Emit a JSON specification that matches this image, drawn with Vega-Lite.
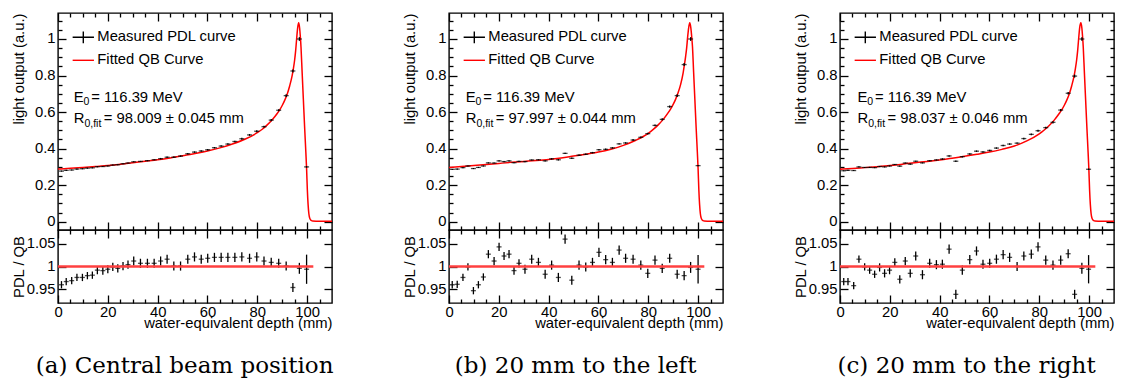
{
"$schema": "https://vega.github.io/schema/vega-lite/v6.json",
"background": "white",
"padding": {"left": 10, "top": 11, "right": 0, "bottom": 0},
"spacing": 67,
"resolve": {"scale": {"x": "independent", "y": "independent", "color": "independent"}, "axis": {"x": "independent", "y": "independent"}, "legend": {"color": "independent"}},
"config": {
 "view": {"stroke": "black", "strokeWidth": 1.4},
 "axis": {"domain": false, "grid": false, "tickColor": "black", "tickWidth": 1.3, "labelFont": "Liberation Sans", "labelFontSize": 14.8, "labelColor": "black", "labelOverlap": false, "labelFlush": false, "titleFont": "Liberation Sans", "titleFontSize": 14.8, "titleFontWeight": "normal", "titleColor": "black"},
 "text": {"font": "Liberation Sans"},
 "tick": {"thickness": 1.3, "color": "black"}
},
"datasets": {
 "ptsA": [
  {"x":1.4,"v":0.277,"ve":0.003,"r":0.960,"re":0.008},{"x":3.3,"v":0.281,"ve":0.003,"r":0.967,"re":0.008},{"x":5.5,"v":0.283,"ve":0.003,"r":0.969,"re":0.008},{"x":7.6,"v":0.288,"ve":0.003,"r":0.976,"re":0.008},{"x":9.8,"v":0.290,"ve":0.003,"r":0.976,"re":0.008},{"x":11.8,"v":0.293,"ve":0.003,"r":0.980,"re":0.008},{"x":13.8,"v":0.295,"ve":0.003,"r":0.981,"re":0.008},{"x":15.8,"v":0.301,"ve":0.003,"r":0.992,"re":0.009},{"x":18.0,"v":0.302,"ve":0.003,"r":0.991,"re":0.009},{"x":20.0,"v":0.305,"ve":0.003,"r":0.994,"re":0.009},{"x":22.0,"v":0.310,"ve":0.003,"r":0.999,"re":0.009},{"x":24.0,"v":0.312,"ve":0.003,"r":0.996,"re":0.009},{"x":26.1,"v":0.317,"ve":0.003,"r":1.001,"re":0.009},{"x":28.1,"v":0.321,"ve":0.003,"r":1.004,"re":0.009},{"x":30.4,"v":0.328,"ve":0.003,"r":1.012,"re":0.010},{"x":33.1,"v":0.330,"ve":0.003,"r":1.007,"re":0.010},{"x":35.9,"v":0.334,"ve":0.003,"r":1.007,"re":0.010},{"x":38.6,"v":0.339,"ve":0.003,"r":1.007,"re":0.010},{"x":41.2,"v":0.345,"ve":0.004,"r":1.012,"re":0.010},{"x":43.8,"v":0.353,"ve":0.004,"r":1.016,"re":0.010},{"x":46.5,"v":0.353,"ve":0.004,"r":1.001,"re":0.010},{"x":49.2,"v":0.359,"ve":0.004,"r":1.001,"re":0.010},{"x":52.1,"v":0.372,"ve":0.004,"r":1.016,"re":0.010},{"x":54.8,"v":0.381,"ve":0.004,"r":1.021,"re":0.010},{"x":57.5,"v":0.387,"ve":0.004,"r":1.016,"re":0.010},{"x":60.1,"v":0.394,"ve":0.004,"r":1.018,"re":0.010},{"x":62.8,"v":0.405,"ve":0.004,"r":1.020,"re":0.010},{"x":65.5,"v":0.414,"ve":0.004,"r":1.020,"re":0.010},{"x":68.2,"v":0.425,"ve":0.004,"r":1.020,"re":0.010},{"x":71.0,"v":0.439,"ve":0.004,"r":1.020,"re":0.010},{"x":73.8,"v":0.454,"ve":0.005,"r":1.021,"re":0.010},{"x":76.9,"v":0.475,"ve":0.005,"r":1.018,"re":0.010},{"x":79.8,"v":0.495,"ve":0.005,"r":1.021,"re":0.010},{"x":82.7,"v":0.520,"ve":0.005,"r":1.012,"re":0.010},{"x":85.6,"v":0.556,"ve":0.006,"r":1.009,"re":0.010},{"x":88.6,"v":0.610,"ve":0.006,"r":1.007,"re":0.010},{"x":91.6,"v":0.690,"ve":0.007,"r":1.001,"re":0.010},{"x":94.3,"v":0.825,"ve":0.008,"r":0.954,"re":0.010},{"x":96.9,"v":1.000,"ve":0.010,"r":0.996,"re":0.012},{"x":99.8,"v":0.300,"ve":0.004,"r":0.994,"re":0.032}
 ],
 "ptsB": [
  {"x":1.3,"v":0.286,"ve":0.003,"r":0.960,"re":0.008},{"x":3.3,"v":0.288,"ve":0.003,"r":0.961,"re":0.008},{"x":5.6,"v":0.296,"ve":0.003,"r":0.976,"re":0.008},{"x":7.6,"v":0.305,"ve":0.003,"r":0.999,"re":0.008},{"x":9.8,"v":0.291,"ve":0.003,"r":0.947,"re":0.008},{"x":11.8,"v":0.297,"ve":0.003,"r":0.960,"re":0.008},{"x":13.8,"v":0.305,"ve":0.003,"r":0.977,"re":0.008},{"x":15.8,"v":0.322,"ve":0.003,"r":1.027,"re":0.009},{"x":18.1,"v":0.321,"ve":0.003,"r":1.012,"re":0.009},{"x":20.1,"v":0.333,"ve":0.003,"r":1.043,"re":0.009},{"x":22.1,"v":0.329,"ve":0.003,"r":1.023,"re":0.009},{"x":24.1,"v":0.333,"ve":0.003,"r":1.027,"re":0.009},{"x":26.1,"v":0.323,"ve":0.003,"r":0.991,"re":0.009},{"x":28.1,"v":0.330,"ve":0.003,"r":1.007,"re":0.009},{"x":30.5,"v":0.329,"ve":0.003,"r":0.994,"re":0.010},{"x":33.2,"v":0.338,"ve":0.003,"r":1.016,"re":0.010},{"x":35.9,"v":0.339,"ve":0.003,"r":1.009,"re":0.010},{"x":38.6,"v":0.333,"ve":0.003,"r":0.983,"re":0.010},{"x":41.2,"v":0.344,"ve":0.004,"r":1.003,"re":0.010},{"x":43.9,"v":0.339,"ve":0.004,"r":0.976,"re":0.010},{"x":46.6,"v":0.374,"ve":0.004,"r":1.060,"re":0.010},{"x":49.3,"v":0.347,"ve":0.004,"r":0.970,"re":0.010},{"x":52.2,"v":0.364,"ve":0.004,"r":1.003,"re":0.010},{"x":54.9,"v":0.369,"ve":0.004,"r":0.999,"re":0.010},{"x":57.6,"v":0.378,"ve":0.004,"r":1.009,"re":0.010},{"x":60.2,"v":0.394,"ve":0.004,"r":1.031,"re":0.010},{"x":62.9,"v":0.396,"ve":0.004,"r":1.015,"re":0.010},{"x":65.6,"v":0.404,"ve":0.004,"r":1.009,"re":0.010},{"x":68.3,"v":0.426,"ve":0.004,"r":1.036,"re":0.010},{"x":70.9,"v":0.431,"ve":0.004,"r":1.018,"re":0.010},{"x":73.9,"v":0.447,"ve":0.005,"r":1.016,"re":0.010},{"x":77.0,"v":0.462,"ve":0.005,"r":1.003,"re":0.010},{"x":79.8,"v":0.482,"ve":0.005,"r":0.985,"re":0.010},{"x":82.7,"v":0.527,"ve":0.005,"r":1.014,"re":0.010},{"x":85.6,"v":0.560,"ve":0.006,"r":0.996,"re":0.010},{"x":88.6,"v":0.630,"ve":0.006,"r":1.018,"re":0.010},{"x":91.6,"v":0.690,"ve":0.007,"r":0.983,"re":0.010},{"x":94.4,"v":0.860,"ve":0.008,"r":0.980,"re":0.010},{"x":97.0,"v":1.000,"ve":0.010,"r":0.998,"re":0.012},{"x":100.0,"v":0.307,"ve":0.004,"r":0.994,"re":0.031}
 ],
 "ptsC": [
  {"x":1.5,"v":0.279,"ve":0.003,"r":0.967,"re":0.008},{"x":3.2,"v":0.281,"ve":0.003,"r":0.967,"re":0.008},{"x":5.5,"v":0.280,"ve":0.003,"r":0.958,"re":0.008},{"x":7.6,"v":0.300,"ve":0.003,"r":1.016,"re":0.008},{"x":9.9,"v":0.297,"ve":0.003,"r":0.999,"re":0.008},{"x":11.9,"v":0.297,"ve":0.003,"r":0.992,"re":0.008},{"x":13.9,"v":0.296,"ve":0.003,"r":0.983,"re":0.008},{"x":15.9,"v":0.302,"ve":0.003,"r":0.998,"re":0.009},{"x":17.9,"v":0.300,"ve":0.003,"r":0.985,"re":0.009},{"x":19.9,"v":0.305,"ve":0.003,"r":0.992,"re":0.009},{"x":22.0,"v":0.313,"ve":0.003,"r":1.009,"re":0.009},{"x":24.0,"v":0.304,"ve":0.003,"r":0.972,"re":0.009},{"x":26.2,"v":0.321,"ve":0.003,"r":1.012,"re":0.009},{"x":28.2,"v":0.315,"ve":0.003,"r":0.985,"re":0.009},{"x":30.4,"v":0.331,"ve":0.003,"r":1.023,"re":0.010},{"x":33.1,"v":0.322,"ve":0.003,"r":0.982,"re":0.010},{"x":36.0,"v":0.334,"ve":0.003,"r":1.007,"re":0.010},{"x":38.7,"v":0.338,"ve":0.003,"r":1.004,"re":0.010},{"x":41.1,"v":0.343,"ve":0.004,"r":1.005,"re":0.010},{"x":43.8,"v":0.360,"ve":0.004,"r":1.038,"re":0.010},{"x":46.5,"v":0.331,"ve":0.004,"r":0.939,"re":0.010},{"x":49.1,"v":0.356,"ve":0.004,"r":0.992,"re":0.010},{"x":52.1,"v":0.371,"ve":0.004,"r":1.015,"re":0.010},{"x":54.8,"v":0.386,"ve":0.004,"r":1.034,"re":0.010},{"x":57.4,"v":0.382,"ve":0.004,"r":1.005,"re":0.010},{"x":60.1,"v":0.390,"ve":0.004,"r":1.007,"re":0.010},{"x":62.8,"v":0.403,"ve":0.004,"r":1.016,"re":0.010},{"x":65.5,"v":0.417,"ve":0.004,"r":1.026,"re":0.010},{"x":68.1,"v":0.425,"ve":0.004,"r":1.020,"re":0.010},{"x":71.1,"v":0.430,"ve":0.004,"r":1.000,"re":0.010},{"x":73.8,"v":0.455,"ve":0.005,"r":1.023,"re":0.010},{"x":76.8,"v":0.478,"ve":0.005,"r":1.027,"re":0.010},{"x":79.5,"v":0.498,"ve":0.005,"r":1.043,"re":0.010},{"x":82.6,"v":0.515,"ve":0.005,"r":1.014,"re":0.010},{"x":85.5,"v":0.544,"ve":0.006,"r":1.003,"re":0.010},{"x":88.6,"v":0.611,"ve":0.006,"r":1.014,"re":0.010},{"x":91.6,"v":0.703,"ve":0.007,"r":1.028,"re":0.010},{"x":94.2,"v":0.797,"ve":0.008,"r":0.939,"re":0.010},{"x":97.1,"v":1.000,"ve":0.010,"r":0.996,"re":0.012},{"x":99.8,"v":0.287,"ve":0.004,"r":0.994,"re":0.031}
 ],
 "curveA": [
  {"x":0,"y":0.288},{"x":5,"y":0.292},{"x":10,"y":0.297},{"x":15,"y":0.302},{"x":20,"y":0.307},{"x":25,"y":0.315},{"x":30,"y":0.323},{"x":35,"y":0.331},{"x":40,"y":0.339},{"x":45,"y":0.349},{"x":50,"y":0.361},{"x":55,"y":0.373},{"x":60,"y":0.387},{"x":65,"y":0.404},{"x":70,"y":0.425},{"x":75,"y":0.451},{"x":80,"y":0.487},{"x":82,"y":0.506},{"x":84,"y":0.530},{"x":86,"y":0.558},{"x":88,"y":0.592},{"x":89,"y":0.612},{"x":90,"y":0.636},{"x":91,"y":0.664},{"x":92,"y":0.698},{"x":93,"y":0.743},{"x":94,"y":0.800},{"x":94.5,"y":0.838},{"x":95,"y":0.885},{"x":95.4,"y":0.935},{"x":95.8,"y":1.0},{"x":96.2,"y":1.06},{"x":96.6,"y":1.089},{"x":97.0,"y":1.06},{"x":97.3,"y":1.01},{"x":97.55,"y":0.958},{"x":98.0,"y":0.82},{"x":98.5,"y":0.67},{"x":99.0,"y":0.52},{"x":99.5,"y":0.38},{"x":99.8,"y":0.29},{"x":100.1,"y":0.175},{"x":100.4,"y":0.095},{"x":100.7,"y":0.045},{"x":101.0,"y":0.022},{"x":101.4,"y":0.01},{"x":101.8,"y":0.006},{"x":102.2,"y":0.004},{"x":105,"y":0.003},{"x":110,"y":0.003}
 ],
 "curveB": [
  {"x":0,"y":0.297},{"x":5,"y":0.302},{"x":10,"y":0.307},{"x":15,"y":0.313},{"x":20,"y":0.319},{"x":25,"y":0.325},{"x":30,"y":0.330},{"x":35,"y":0.335},{"x":40,"y":0.341},{"x":45,"y":0.349},{"x":50,"y":0.359},{"x":55,"y":0.369},{"x":60,"y":0.381},{"x":65,"y":0.397},{"x":70,"y":0.418},{"x":75,"y":0.446},{"x":80,"y":0.484},{"x":82,"y":0.505},{"x":84,"y":0.530},{"x":86,"y":0.560},{"x":88,"y":0.597},{"x":89,"y":0.618},{"x":90,"y":0.642},{"x":91,"y":0.671},{"x":92,"y":0.707},{"x":93,"y":0.752},{"x":94,"y":0.815},{"x":94.5,"y":0.858},{"x":95,"y":0.905},{"x":95.4,"y":0.950},{"x":95.8,"y":1.01},{"x":96.2,"y":1.06},{"x":96.65,"y":1.089},{"x":97.1,"y":1.06},{"x":97.45,"y":1.01},{"x":97.75,"y":0.958},{"x":98.2,"y":0.82},{"x":98.7,"y":0.67},{"x":99.2,"y":0.52},{"x":99.7,"y":0.38},{"x":100.0,"y":0.29},{"x":100.3,"y":0.175},{"x":100.6,"y":0.095},{"x":100.9,"y":0.045},{"x":101.2,"y":0.022},{"x":101.6,"y":0.01},{"x":102.0,"y":0.006},{"x":102.4,"y":0.004},{"x":105,"y":0.003},{"x":110,"y":0.003}
 ],
 "curveC": [
  {"x":0,"y":0.287},{"x":5,"y":0.291},{"x":10,"y":0.296},{"x":15,"y":0.301},{"x":20,"y":0.307},{"x":25,"y":0.315},{"x":30,"y":0.323},{"x":35,"y":0.330},{"x":40,"y":0.338},{"x":45,"y":0.347},{"x":50,"y":0.358},{"x":55,"y":0.369},{"x":60,"y":0.381},{"x":65,"y":0.396},{"x":70,"y":0.414},{"x":75,"y":0.442},{"x":80,"y":0.481},{"x":82,"y":0.502},{"x":84,"y":0.527},{"x":86,"y":0.556},{"x":88,"y":0.592},{"x":89,"y":0.612},{"x":90,"y":0.636},{"x":91,"y":0.664},{"x":92,"y":0.698},{"x":93,"y":0.743},{"x":94,"y":0.800},{"x":94.5,"y":0.838},{"x":95,"y":0.885},{"x":95.4,"y":0.935},{"x":95.8,"y":1.0},{"x":96.2,"y":1.06},{"x":96.7,"y":1.089},{"x":97.1,"y":1.06},{"x":97.4,"y":1.01},{"x":97.65,"y":0.958},{"x":98.1,"y":0.82},{"x":98.6,"y":0.67},{"x":99.1,"y":0.52},{"x":99.6,"y":0.38},{"x":99.9,"y":0.29},{"x":100.2,"y":0.175},{"x":100.5,"y":0.095},{"x":100.8,"y":0.045},{"x":101.1,"y":0.022},{"x":101.5,"y":0.01},{"x":101.9,"y":0.006},{"x":102.3,"y":0.004},{"x":105,"y":0.003},{"x":110,"y":0.003}
 ]
},
"hconcat": [
 {
  "spacing": 0, "bounds": "flush",
  "resolve": {"scale": {"x": "independent", "y": "independent", "color": "independent"}, "axis": {"x": "independent", "y": "independent"}, "legend": {"color": "independent"}},
  "title": {"text": "(a) Central beam position", "orient": "bottom", "anchor": "middle", "frame": "bounds", "dx": 12.5, "offset": 24, "font": "DejaVu Serif", "fontSize": 23, "fontWeight": "normal", "color": "black"},
  "vconcat": [
   {
    "width": 274, "height": 217,
    "resolve": {"axis": {"x": "independent", "y": "independent"}},
    "layer": [
     {"data": {"name": "curveA"}, "mark": {"type": "line", "interpolate": "monotone", "strokeWidth": 1.5, "clip": true},
      "encoding": {
       "x": {"field": "x", "type": "quantitative", "scale": {"domain": [0, 110], "nice": false, "zero": false}, "axis": {"orient": "bottom", "values": [0,20,40,60,80,100], "tickSize": -8, "labels": false, "title": null}},
       "y": {"field": "y", "type": "quantitative", "scale": {"domain": [-0.0454, 1.1423], "nice": false, "zero": false}, "axis": {"orient": "left", "values": [0,0.2,0.4,0.6,0.8,1], "format": "~g", "tickSize": -8, "labelPadding": 11, "title": "light output (a.u.)", "titleAnchor": "end", "titleX": -31.5}},
       "color": {"datum": "Fitted QB Curve", "type": "nominal", "scale": {"domain": ["Measured PDL curve", "Fitted QB Curve"], "range": ["black", "#ff0000"]},
        "legend": {"orient": "none", "legendX": 13.8, "legendY": 12.8, "title": null, "padding": 0, "symbolSize": 454, "symbolStrokeWidth": 1.3, "labelFont": "Liberation Sans", "labelFontSize": 14.8, "labelColor": "black", "labelOffset": 2.5, "rowPadding": 2, "labelLimit": 400,
         "encode": {"symbols": {"update": {"shape": {"signal": "datum.value === 'Measured PDL curve' ? 'M-1,0H1M0,-0.55V0.55' : 'M-1,0H1'"}, "fill": {"value": "transparent"}, "stroke": {"signal": "datum.value === 'Measured PDL curve' ? 'black' : '#ff0000'"}, "strokeWidth": {"value": 1.4}}}}}}
      }},
     {"data": {"name": "ptsA"}, "mark": {"type": "errorbar", "ticks": false, "color": "black", "rule": {"strokeWidth": 1.3}},
      "encoding": {"x": {"field": "x", "type": "quantitative", "axis": {"orient": "bottom", "values": [5,10,15,25,30,35,45,50,55,65,70,75,85,90,95,105], "tickSize": -4, "labels": false, "title": null}},
       "y": {"field": "v", "type": "quantitative", "axis": {"orient": "left", "values": [0.05,0.1,0.15,0.25,0.3,0.35,0.45,0.5,0.55,0.65,0.7,0.75,0.85,0.9,0.95,1.05,1.1], "tickSize": -4, "labels": false, "title": null}},
       "yError": {"field": "ve"}}},
     {"data": {"name": "ptsA"}, "mark": {"type": "tick", "orient": "horizontal", "size": 5, "thickness": 1.3, "color": "black"},
      "encoding": {"x": {"field": "x", "type": "quantitative", "axis": {"orient": "top", "values": [0,20,40,60,80,100], "tickSize": -8, "labels": false, "title": null}},
       "y": {"field": "v", "type": "quantitative", "axis": {"orient": "right", "values": [0,0.2,0.4,0.6,0.8,1], "tickSize": -8, "labels": false, "title": null}}}},
     {"data": {"values": [{}]}, "mark": {"type": "text", "text": "E", "align": "left", "baseline": "alphabetic", "fontSize": 14.8, "color": "black"},
      "encoding": {"x": {"datum": 6.3, "type": "quantitative", "axis": {"orient": "top", "values": [5,10,15,25,30,35,45,50,55,65,70,75,85,90,95,105], "tickSize": -4, "labels": false, "title": null}},
       "y": {"datum": 0.657, "type": "quantitative", "axis": {"orient": "right", "values": [0.05,0.1,0.15,0.25,0.3,0.35,0.45,0.5,0.55,0.65,0.7,0.75,0.85,0.9,0.95,1.05,1.1], "tickSize": -4, "labels": false, "title": null}}}},
     {"data": {"values": [{}]}, "mark": {"type": "text", "text": "0", "align": "left", "baseline": "alphabetic", "fontSize": 10.5, "dx": 9.9, "dy": 3.5, "color": "black"},
      "encoding": {"x": {"datum": 6.3, "type": "quantitative", "axis": null}, "y": {"datum": 0.657, "type": "quantitative", "axis": null}}},
     {"data": {"values": [{}]}, "mark": {"type": "text", "text": "= 116.39 MeV", "align": "left", "baseline": "alphabetic", "fontSize": 14.8, "dx": 17.5, "color": "black"},
      "encoding": {"x": {"datum": 6.3, "type": "quantitative", "axis": null}, "y": {"datum": 0.657, "type": "quantitative", "axis": null}}},
     {"data": {"values": [{}]}, "mark": {"type": "text", "text": "R", "align": "left", "baseline": "alphabetic", "fontSize": 14.8, "color": "black"},
      "encoding": {"x": {"datum": 6.3, "type": "quantitative", "axis": null}, "y": {"datum": 0.5386, "type": "quantitative", "axis": null}}},
     {"data": {"values": [{}]}, "mark": {"type": "text", "text": "0,fit", "align": "left", "baseline": "alphabetic", "fontSize": 10.5, "dx": 10.7, "dy": 3.5, "color": "black"},
      "encoding": {"x": {"datum": 6.3, "type": "quantitative", "axis": null}, "y": {"datum": 0.5386, "type": "quantitative", "axis": null}}},
     {"data": {"values": [{}]}, "mark": {"type": "text", "text": "= 98.009 ± 0.045 mm", "align": "left", "baseline": "alphabetic", "fontSize": 14.8, "dx": 30, "color": "black"},
      "encoding": {"x": {"datum": 6.3, "type": "quantitative", "axis": null}, "y": {"datum": 0.5386, "type": "quantitative", "axis": null}}}
    ]
   },
   {
    "width": 274, "height": 73,
    "resolve": {"axis": {"x": "independent", "y": "independent"}},
    "layer": [
     {"data": {"name": "ptsA"}, "mark": {"type": "errorbar", "ticks": false, "color": "black", "rule": {"strokeWidth": 1.3}},
      "encoding": {"x": {"field": "x", "type": "quantitative", "scale": {"domain": [0, 110], "nice": false, "zero": false}, "axis": {"orient": "bottom", "values": [0,20,40,60,80,100], "tickSize": -8, "labelPadding": 9.5, "title": "water-equivalent depth (mm)", "titleAnchor": "end", "titleY": 12.5}},
       "y": {"field": "r", "type": "quantitative", "scale": {"domain": [0.92, 1.08], "nice": false, "zero": false}, "axis": {"orient": "left", "values": [0.95,1,1.05], "format": "~g", "tickSize": -8, "labelPadding": 11, "title": "PDL / QB", "titleAnchor": "middle", "titleX": -31.5}},
       "yError": {"field": "re"}}},
     {"data": {"name": "ptsA"}, "mark": {"type": "tick", "orient": "horizontal", "size": 5, "thickness": 1.3, "color": "black"},
      "encoding": {"x": {"field": "x", "type": "quantitative", "axis": {"orient": "bottom", "values": [5,10,15,25,30,35,45,50,55,65,70,75,85,90,95,105], "tickSize": -4, "labels": false, "title": null}},
       "y": {"field": "r", "type": "quantitative", "axis": {"orient": "right", "values": [0.95,1,1.05], "tickSize": -8, "labels": false, "title": null}}}},
     {"data": {"values": [{}]}, "mark": {"type": "rule", "color": "#ff4040", "strokeWidth": 2.4},
      "encoding": {"x": {"datum": 0, "type": "quantitative", "axis": {"orient": "top", "values": [0,20,40,60,80,100], "tickSize": -8, "labels": false, "title": null}}, "x2": {"datum": 102.5}, "y": {"datum": 1, "type": "quantitative", "axis": null}}},
     {"data": {"values": [{}]}, "mark": {"type": "text", "text": ""},
      "encoding": {"x": {"datum": 0, "type": "quantitative", "axis": {"orient": "top", "values": [5,10,15,25,30,35,45,50,55,65,70,75,85,90,95,105], "tickSize": -4, "labels": false, "title": null}}, "y": {"datum": 1, "type": "quantitative", "axis": null}}}
    ]
   }
  ]
 },
 {
  "spacing": 0, "bounds": "flush",
  "resolve": {"scale": {"x": "independent", "y": "independent", "color": "independent"}, "axis": {"x": "independent", "y": "independent"}, "legend": {"color": "independent"}},
  "title": {"text": "(b) 20 mm to the left", "orient": "bottom", "anchor": "middle", "frame": "bounds", "dx": 12.5, "offset": 24, "font": "DejaVu Serif", "fontSize": 23, "fontWeight": "normal", "color": "black"},
  "vconcat": [
   {
    "width": 274, "height": 217,
    "resolve": {"axis": {"x": "independent", "y": "independent"}},
    "layer": [
     {"data": {"name": "curveB"}, "mark": {"type": "line", "interpolate": "monotone", "strokeWidth": 1.5, "clip": true},
      "encoding": {
       "x": {"field": "x", "type": "quantitative", "scale": {"domain": [0, 110], "nice": false, "zero": false}, "axis": {"orient": "bottom", "values": [0,20,40,60,80,100], "tickSize": -8, "labels": false, "title": null}},
       "y": {"field": "y", "type": "quantitative", "scale": {"domain": [-0.0454, 1.1423], "nice": false, "zero": false}, "axis": {"orient": "left", "values": [0,0.2,0.4,0.6,0.8,1], "format": "~g", "tickSize": -8, "labelPadding": 11, "title": "light output (a.u.)", "titleAnchor": "end", "titleX": -31.5}},
       "color": {"datum": "Fitted QB Curve", "type": "nominal", "scale": {"domain": ["Measured PDL curve", "Fitted QB Curve"], "range": ["black", "#ff0000"]},
        "legend": {"orient": "none", "legendX": 13.8, "legendY": 12.8, "title": null, "padding": 0, "symbolSize": 454, "symbolStrokeWidth": 1.3, "labelFont": "Liberation Sans", "labelFontSize": 14.8, "labelColor": "black", "labelOffset": 2.5, "rowPadding": 2, "labelLimit": 400,
         "encode": {"symbols": {"update": {"shape": {"signal": "datum.value === 'Measured PDL curve' ? 'M-1,0H1M0,-0.55V0.55' : 'M-1,0H1'"}, "fill": {"value": "transparent"}, "stroke": {"signal": "datum.value === 'Measured PDL curve' ? 'black' : '#ff0000'"}, "strokeWidth": {"value": 1.4}}}}}}
      }},
     {"data": {"name": "ptsB"}, "mark": {"type": "errorbar", "ticks": false, "color": "black", "rule": {"strokeWidth": 1.3}},
      "encoding": {"x": {"field": "x", "type": "quantitative", "axis": {"orient": "bottom", "values": [5,10,15,25,30,35,45,50,55,65,70,75,85,90,95,105], "tickSize": -4, "labels": false, "title": null}},
       "y": {"field": "v", "type": "quantitative", "axis": {"orient": "left", "values": [0.05,0.1,0.15,0.25,0.3,0.35,0.45,0.5,0.55,0.65,0.7,0.75,0.85,0.9,0.95,1.05,1.1], "tickSize": -4, "labels": false, "title": null}},
       "yError": {"field": "ve"}}},
     {"data": {"name": "ptsB"}, "mark": {"type": "tick", "orient": "horizontal", "size": 5, "thickness": 1.3, "color": "black"},
      "encoding": {"x": {"field": "x", "type": "quantitative", "axis": {"orient": "top", "values": [0,20,40,60,80,100], "tickSize": -8, "labels": false, "title": null}},
       "y": {"field": "v", "type": "quantitative", "axis": {"orient": "right", "values": [0,0.2,0.4,0.6,0.8,1], "tickSize": -8, "labels": false, "title": null}}}},
     {"data": {"values": [{}]}, "mark": {"type": "text", "text": "E", "align": "left", "baseline": "alphabetic", "fontSize": 14.8, "color": "black"},
      "encoding": {"x": {"datum": 6.7, "type": "quantitative", "axis": {"orient": "top", "values": [5,10,15,25,30,35,45,50,55,65,70,75,85,90,95,105], "tickSize": -4, "labels": false, "title": null}},
       "y": {"datum": 0.657, "type": "quantitative", "axis": {"orient": "right", "values": [0.05,0.1,0.15,0.25,0.3,0.35,0.45,0.5,0.55,0.65,0.7,0.75,0.85,0.9,0.95,1.05,1.1], "tickSize": -4, "labels": false, "title": null}}}},
     {"data": {"values": [{}]}, "mark": {"type": "text", "text": "0", "align": "left", "baseline": "alphabetic", "fontSize": 10.5, "dx": 9.9, "dy": 3.5, "color": "black"},
      "encoding": {"x": {"datum": 6.7, "type": "quantitative", "axis": null}, "y": {"datum": 0.657, "type": "quantitative", "axis": null}}},
     {"data": {"values": [{}]}, "mark": {"type": "text", "text": "= 116.39 MeV", "align": "left", "baseline": "alphabetic", "fontSize": 14.8, "dx": 17.5, "color": "black"},
      "encoding": {"x": {"datum": 6.7, "type": "quantitative", "axis": null}, "y": {"datum": 0.657, "type": "quantitative", "axis": null}}},
     {"data": {"values": [{}]}, "mark": {"type": "text", "text": "R", "align": "left", "baseline": "alphabetic", "fontSize": 14.8, "color": "black"},
      "encoding": {"x": {"datum": 6.7, "type": "quantitative", "axis": null}, "y": {"datum": 0.5386, "type": "quantitative", "axis": null}}},
     {"data": {"values": [{}]}, "mark": {"type": "text", "text": "0,fit", "align": "left", "baseline": "alphabetic", "fontSize": 10.5, "dx": 10.7, "dy": 3.5, "color": "black"},
      "encoding": {"x": {"datum": 6.7, "type": "quantitative", "axis": null}, "y": {"datum": 0.5386, "type": "quantitative", "axis": null}}},
     {"data": {"values": [{}]}, "mark": {"type": "text", "text": "= 97.997 ± 0.044 mm", "align": "left", "baseline": "alphabetic", "fontSize": 14.8, "dx": 30, "color": "black"},
      "encoding": {"x": {"datum": 6.7, "type": "quantitative", "axis": null}, "y": {"datum": 0.5386, "type": "quantitative", "axis": null}}}
    ]
   },
   {
    "width": 274, "height": 73,
    "resolve": {"axis": {"x": "independent", "y": "independent"}},
    "layer": [
     {"data": {"name": "ptsB"}, "mark": {"type": "errorbar", "ticks": false, "color": "black", "rule": {"strokeWidth": 1.3}},
      "encoding": {"x": {"field": "x", "type": "quantitative", "scale": {"domain": [0, 110], "nice": false, "zero": false}, "axis": {"orient": "bottom", "values": [0,20,40,60,80,100], "tickSize": -8, "labelPadding": 9.5, "title": "water-equivalent depth (mm)", "titleAnchor": "end", "titleY": 12.5}},
       "y": {"field": "r", "type": "quantitative", "scale": {"domain": [0.92, 1.08], "nice": false, "zero": false}, "axis": {"orient": "left", "values": [0.95,1,1.05], "format": "~g", "tickSize": -8, "labelPadding": 11, "title": "PDL / QB", "titleAnchor": "middle", "titleX": -31.5}},
       "yError": {"field": "re"}}},
     {"data": {"name": "ptsB"}, "mark": {"type": "tick", "orient": "horizontal", "size": 5, "thickness": 1.3, "color": "black"},
      "encoding": {"x": {"field": "x", "type": "quantitative", "axis": {"orient": "bottom", "values": [5,10,15,25,30,35,45,50,55,65,70,75,85,90,95,105], "tickSize": -4, "labels": false, "title": null}},
       "y": {"field": "r", "type": "quantitative", "axis": {"orient": "right", "values": [0.95,1,1.05], "tickSize": -8, "labels": false, "title": null}}}},
     {"data": {"values": [{}]}, "mark": {"type": "rule", "color": "#ff4040", "strokeWidth": 2.4},
      "encoding": {"x": {"datum": 0, "type": "quantitative", "axis": {"orient": "top", "values": [0,20,40,60,80,100], "tickSize": -8, "labels": false, "title": null}}, "x2": {"datum": 102.5}, "y": {"datum": 1, "type": "quantitative", "axis": null}}},
     {"data": {"values": [{}]}, "mark": {"type": "text", "text": ""},
      "encoding": {"x": {"datum": 0, "type": "quantitative", "axis": {"orient": "top", "values": [5,10,15,25,30,35,45,50,55,65,70,75,85,90,95,105], "tickSize": -4, "labels": false, "title": null}}, "y": {"datum": 1, "type": "quantitative", "axis": null}}}
    ]
   }
  ]
 },
 {
  "spacing": 0, "bounds": "flush",
  "resolve": {"scale": {"x": "independent", "y": "independent", "color": "independent"}, "axis": {"x": "independent", "y": "independent"}, "legend": {"color": "independent"}},
  "title": {"text": "(c) 20 mm to the right", "orient": "bottom", "anchor": "middle", "frame": "bounds", "dx": 12.5, "offset": 24, "font": "DejaVu Serif", "fontSize": 23, "fontWeight": "normal", "color": "black"},
  "vconcat": [
   {
    "width": 274, "height": 217,
    "resolve": {"axis": {"x": "independent", "y": "independent"}},
    "layer": [
     {"data": {"name": "curveC"}, "mark": {"type": "line", "interpolate": "monotone", "strokeWidth": 1.5, "clip": true},
      "encoding": {
       "x": {"field": "x", "type": "quantitative", "scale": {"domain": [0, 110], "nice": false, "zero": false}, "axis": {"orient": "bottom", "values": [0,20,40,60,80,100], "tickSize": -8, "labels": false, "title": null}},
       "y": {"field": "y", "type": "quantitative", "scale": {"domain": [-0.0454, 1.1423], "nice": false, "zero": false}, "axis": {"orient": "left", "values": [0,0.2,0.4,0.6,0.8,1], "format": "~g", "tickSize": -8, "labelPadding": 11, "title": "light output (a.u.)", "titleAnchor": "end", "titleX": -31.5}},
       "color": {"datum": "Fitted QB Curve", "type": "nominal", "scale": {"domain": ["Measured PDL curve", "Fitted QB Curve"], "range": ["black", "#ff0000"]},
        "legend": {"orient": "none", "legendX": 13.8, "legendY": 12.8, "title": null, "padding": 0, "symbolSize": 454, "symbolStrokeWidth": 1.3, "labelFont": "Liberation Sans", "labelFontSize": 14.8, "labelColor": "black", "labelOffset": 2.5, "rowPadding": 2, "labelLimit": 400,
         "encode": {"symbols": {"update": {"shape": {"signal": "datum.value === 'Measured PDL curve' ? 'M-1,0H1M0,-0.55V0.55' : 'M-1,0H1'"}, "fill": {"value": "transparent"}, "stroke": {"signal": "datum.value === 'Measured PDL curve' ? 'black' : '#ff0000'"}, "strokeWidth": {"value": 1.4}}}}}}
      }},
     {"data": {"name": "ptsC"}, "mark": {"type": "errorbar", "ticks": false, "color": "black", "rule": {"strokeWidth": 1.3}},
      "encoding": {"x": {"field": "x", "type": "quantitative", "axis": {"orient": "bottom", "values": [5,10,15,25,30,35,45,50,55,65,70,75,85,90,95,105], "tickSize": -4, "labels": false, "title": null}},
       "y": {"field": "v", "type": "quantitative", "axis": {"orient": "left", "values": [0.05,0.1,0.15,0.25,0.3,0.35,0.45,0.5,0.55,0.65,0.7,0.75,0.85,0.9,0.95,1.05,1.1], "tickSize": -4, "labels": false, "title": null}},
       "yError": {"field": "ve"}}},
     {"data": {"name": "ptsC"}, "mark": {"type": "tick", "orient": "horizontal", "size": 5, "thickness": 1.3, "color": "black"},
      "encoding": {"x": {"field": "x", "type": "quantitative", "axis": {"orient": "top", "values": [0,20,40,60,80,100], "tickSize": -8, "labels": false, "title": null}},
       "y": {"field": "v", "type": "quantitative", "axis": {"orient": "right", "values": [0,0.2,0.4,0.6,0.8,1], "tickSize": -8, "labels": false, "title": null}}}},
     {"data": {"values": [{}]}, "mark": {"type": "text", "text": "E", "align": "left", "baseline": "alphabetic", "fontSize": 14.8, "color": "black"},
      "encoding": {"x": {"datum": 7.0, "type": "quantitative", "axis": {"orient": "top", "values": [5,10,15,25,30,35,45,50,55,65,70,75,85,90,95,105], "tickSize": -4, "labels": false, "title": null}},
       "y": {"datum": 0.657, "type": "quantitative", "axis": {"orient": "right", "values": [0.05,0.1,0.15,0.25,0.3,0.35,0.45,0.5,0.55,0.65,0.7,0.75,0.85,0.9,0.95,1.05,1.1], "tickSize": -4, "labels": false, "title": null}}}},
     {"data": {"values": [{}]}, "mark": {"type": "text", "text": "0", "align": "left", "baseline": "alphabetic", "fontSize": 10.5, "dx": 9.9, "dy": 3.5, "color": "black"},
      "encoding": {"x": {"datum": 7.0, "type": "quantitative", "axis": null}, "y": {"datum": 0.657, "type": "quantitative", "axis": null}}},
     {"data": {"values": [{}]}, "mark": {"type": "text", "text": "= 116.39 MeV", "align": "left", "baseline": "alphabetic", "fontSize": 14.8, "dx": 17.5, "color": "black"},
      "encoding": {"x": {"datum": 7.0, "type": "quantitative", "axis": null}, "y": {"datum": 0.657, "type": "quantitative", "axis": null}}},
     {"data": {"values": [{}]}, "mark": {"type": "text", "text": "R", "align": "left", "baseline": "alphabetic", "fontSize": 14.8, "color": "black"},
      "encoding": {"x": {"datum": 7.0, "type": "quantitative", "axis": null}, "y": {"datum": 0.5386, "type": "quantitative", "axis": null}}},
     {"data": {"values": [{}]}, "mark": {"type": "text", "text": "0,fit", "align": "left", "baseline": "alphabetic", "fontSize": 10.5, "dx": 10.7, "dy": 3.5, "color": "black"},
      "encoding": {"x": {"datum": 7.0, "type": "quantitative", "axis": null}, "y": {"datum": 0.5386, "type": "quantitative", "axis": null}}},
     {"data": {"values": [{}]}, "mark": {"type": "text", "text": "= 98.037 ± 0.046 mm", "align": "left", "baseline": "alphabetic", "fontSize": 14.8, "dx": 30, "color": "black"},
      "encoding": {"x": {"datum": 7.0, "type": "quantitative", "axis": null}, "y": {"datum": 0.5386, "type": "quantitative", "axis": null}}}
    ]
   },
   {
    "width": 274, "height": 73,
    "resolve": {"axis": {"x": "independent", "y": "independent"}},
    "layer": [
     {"data": {"name": "ptsC"}, "mark": {"type": "errorbar", "ticks": false, "color": "black", "rule": {"strokeWidth": 1.3}},
      "encoding": {"x": {"field": "x", "type": "quantitative", "scale": {"domain": [0, 110], "nice": false, "zero": false}, "axis": {"orient": "bottom", "values": [0,20,40,60,80,100], "tickSize": -8, "labelPadding": 9.5, "title": "water-equivalent depth (mm)", "titleAnchor": "end", "titleY": 12.5}},
       "y": {"field": "r", "type": "quantitative", "scale": {"domain": [0.92, 1.08], "nice": false, "zero": false}, "axis": {"orient": "left", "values": [0.95,1,1.05], "format": "~g", "tickSize": -8, "labelPadding": 11, "title": "PDL / QB", "titleAnchor": "middle", "titleX": -31.5}},
       "yError": {"field": "re"}}},
     {"data": {"name": "ptsC"}, "mark": {"type": "tick", "orient": "horizontal", "size": 5, "thickness": 1.3, "color": "black"},
      "encoding": {"x": {"field": "x", "type": "quantitative", "axis": {"orient": "bottom", "values": [5,10,15,25,30,35,45,50,55,65,70,75,85,90,95,105], "tickSize": -4, "labels": false, "title": null}},
       "y": {"field": "r", "type": "quantitative", "axis": {"orient": "right", "values": [0.95,1,1.05], "tickSize": -8, "labels": false, "title": null}}}},
     {"data": {"values": [{}]}, "mark": {"type": "rule", "color": "#ff4040", "strokeWidth": 2.4},
      "encoding": {"x": {"datum": 0, "type": "quantitative", "axis": {"orient": "top", "values": [0,20,40,60,80,100], "tickSize": -8, "labels": false, "title": null}}, "x2": {"datum": 102.5}, "y": {"datum": 1, "type": "quantitative", "axis": null}}},
     {"data": {"values": [{}]}, "mark": {"type": "text", "text": ""},
      "encoding": {"x": {"datum": 0, "type": "quantitative", "axis": {"orient": "top", "values": [5,10,15,25,30,35,45,50,55,65,70,75,85,90,95,105], "tickSize": -4, "labels": false, "title": null}}, "y": {"datum": 1, "type": "quantitative", "axis": null}}}
    ]
   }
  ]
 }
]
}
